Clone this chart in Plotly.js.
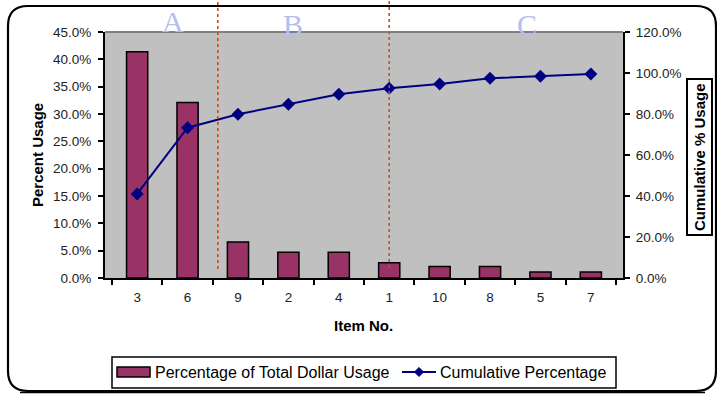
<!DOCTYPE html>
<html><head><meta charset="utf-8">
<script src="https://cdn.plot.ly/plotly-3.0.1.min.js"></script>
<style>html,body{margin:0;padding:0;background:#fff}#chart{width:717px;height:395px}</style>
</head><body><div id="chart"></div>
<script>
const items = ['3','6','9','2','4','1','10','8','5','7'];
const pctUsage = [41.4, 32.1, 6.6, 4.7, 4.7, 2.8, 2.1, 2.1, 1.1, 1.1];
const cumPct = [41.0, 73.3, 79.9, 84.8, 89.6, 92.6, 94.6, 97.4, 98.4, 99.5];
const zoneLabels = ['A','B','C'];
const barName = 'Percentage of Total Dollar Usage';
const lineName = 'Cumulative Percentage';

const W=717,H=395,L=105,R=623,T=32,B=278;
const px = x => (x-L)/(R-L);
const py = y => (B-y)/(B-T);
const FONT = 'Liberation Sans, Arial, sans-serif';

function roundRect(x0,y0,x1,y1,r){
  const P=(x,y)=>px(x).toFixed(5)+','+py(y).toFixed(5);
  return 'M'+P(x0+r,y0)+' L'+P(x1-r,y0)+' Q'+P(x1,y0)+' '+P(x1,y0+r)+
    ' L'+P(x1,y1-r)+' Q'+P(x1,y1)+' '+P(x1-r,y1)+' L'+P(x0+r,y1)+
    ' Q'+P(x0,y1)+' '+P(x0,y1-r)+' L'+P(x0,y0+r)+' Q'+P(x0,y0)+' '+P(x0+r,y0)+' Z';
}
function diamond(cx,cy,s){
  const P=(x,y)=>px(x).toFixed(5)+','+py(y).toFixed(5);
  return 'M'+P(cx,cy-s)+' L'+P(cx+s,cy)+' L'+P(cx,cy+s)+' L'+P(cx-s,cy)+' Z';
}

const traces = [
  {type:'bar', x:items, y:pctUsage, name:barName, width:0.42,
   marker:{color:'#993366', line:{color:'#000', width:1.5}}, showlegend:false},
  {type:'scatter', mode:'lines+markers', x:items, y:cumPct, yaxis:'y2', name:lineName,
   line:{color:'#000080', width:2}, marker:{symbol:'diamond', size:10, color:'#000080'}, showlegend:false}
];

const shapes = [
  {type:'path', xref:'paper', yref:'paper', path:roundRect(8,6,716,391,20), line:{color:'#000', width:2.2}},
  {type:'line', xref:'paper', yref:'paper', x0:px(20), x1:px(705), y0:py(392.5), y1:py(392.5), line:{color:'#000', width:1.5}},
  {type:'line', xref:'paper', yref:'paper', x0:0, x1:1, y0:1, y1:1, line:{color:'#808080', width:2}},
  {type:'line', xref:'x', yref:'paper', x0:1.6, x1:1.6, y0:py(269), y1:py(0), line:{color:'#D5481A', width:1.6, dash:'dot'}},
  {type:'line', xref:'x', yref:'paper', x0:5.0, x1:5.0, y0:py(268), y1:py(0), line:{color:'#D5481A', width:1.6, dash:'dot'}},
  // legend
  {type:'rect', xref:'paper', yref:'paper', x0:px(112), x1:px(616), y0:py(388), y1:py(357), line:{color:'#000', width:1.5}, fillcolor:'#fff'},
  {type:'rect', xref:'paper', yref:'paper', x0:px(117), x1:px(150), y0:py(377), y1:py(367), line:{color:'#000', width:1.5}, fillcolor:'#993366'},
  {type:'line', xref:'paper', yref:'paper', x0:px(402), x1:px(436), y0:py(372), y1:py(372), line:{color:'#000080', width:2}},
  {type:'path', xref:'paper', yref:'paper', path:diamond(419,372,4.5), fillcolor:'#000080', line:{color:'#000080', width:1}}
];

const zoneX = [173, 293, 527];
const zoneY = [22, 25, 25];
const annotations = zoneLabels.map((t,i)=>({
  text:t, xref:'paper', yref:'paper', x:px(zoneX[i]), y:py(zoneY[i]), xanchor:'center', yanchor:'middle',
  showarrow:false, font:{family:'Liberation Serif, Times New Roman, serif', size:30, color:'#B3BFEF'}
}));
annotations.push(
  {text:'<b>Percent Usage</b>', xref:'paper', yref:'paper', x:px(37), y:py(155), textangle:-90,
   showarrow:false, xanchor:'center', yanchor:'middle', font:{family:FONT, size:15, color:'#000'}},
  {text:'<b>Cumulative % Usage</b>', xref:'paper', yref:'paper', x:px(699), y:py(157), textangle:-90,
   showarrow:false, xanchor:'center', yanchor:'middle', bordercolor:'#000', borderwidth:2, borderpad:3,
   font:{family:FONT, size:15, color:'#000'}},
  {text:'<b>Item No.</b>', xref:'paper', yref:'paper', x:px(363), y:py(325), showarrow:false,
   xanchor:'center', yanchor:'middle', font:{family:FONT, size:15, color:'#000'}},
  {text:barName, xref:'paper', yref:'paper', x:px(153), y:py(372), showarrow:false,
   xanchor:'left', yanchor:'middle', font:{family:FONT, size:16, color:'#000'}},
  {text:lineName, xref:'paper', yref:'paper', x:px(438), y:py(372), showarrow:false,
   xanchor:'left', yanchor:'middle', font:{family:FONT, size:16, color:'#000'}}
);

const layout = {
  width:W, height:H, margin:{l:L, r:W-R, t:T, b:H-B},
  paper_bgcolor:'#fff', plot_bgcolor:'#C0C0C0', showlegend:false,
  font:{family:FONT, color:'#222'},
  xaxis:{type:'category', showgrid:false, zeroline:false, showline:true, linecolor:'#000', linewidth:2,
    ticks:'outside', ticklen:5, tickwidth:2, tickcolor:'#000', tickson:'boundaries',
    ticklabelstandoff:6, tickfont:{size:13.5, family:FONT, color:'#222'}},
  yaxis:{range:[0,45], dtick:5, tickformat:'.1f', ticksuffix:'%', showgrid:false, zeroline:false,
    showline:true, linecolor:'#000', linewidth:2, ticks:'outside', ticklen:5, tickwidth:2, tickcolor:'#000',
    ticklabelstandoff:4, tickfont:{size:13.5, family:FONT, color:'#222'}},
  yaxis2:{range:[0,120], dtick:20, tickformat:'.1f', ticksuffix:'%', overlaying:'y', side:'right',
    showgrid:false, zeroline:false, showline:true, linecolor:'#000', linewidth:2, ticks:'outside',
    ticklen:5, tickwidth:2, tickcolor:'#000', ticklabelstandoff:3, tickfont:{size:13.5, family:FONT, color:'#222'}},
  shapes:shapes, annotations:annotations
};
Plotly.newPlot('chart', traces, layout, {staticPlot:true, displayModeBar:false});
</script></body></html>
